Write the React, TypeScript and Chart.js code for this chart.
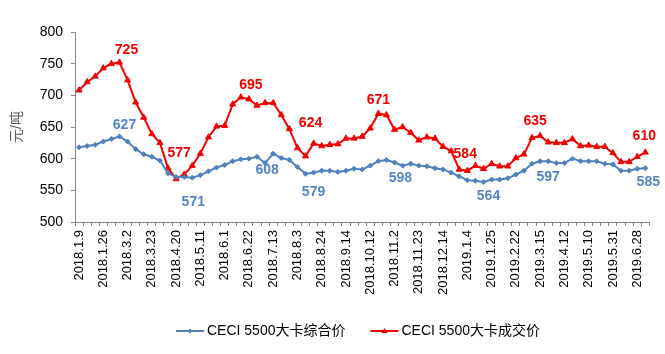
import React, { useEffect, useRef } from 'react';
import { Chart, registerables } from 'chart.js';

Chart.register(...registerables);

const dates: string[] = [
  '2018.1.9', '2018.1.12', '2018.1.19', '2018.1.26', '2018.2.2', '2018.2.9',
  '2018.3.2', '2018.3.9', '2018.3.16', '2018.3.23', '2018.3.30', '2018.4.13',
  '2018.4.20', '2018.4.27', '2018.5.4', '2018.5.11', '2018.5.18', '2018.5.25',
  '2018.6.1', '2018.6.8', '2018.6.15', '2018.6.22', '2018.6.29', '2018.7.6',
  '2018.7.13', '2018.7.20', '2018.7.27', '2018.8.3', '2018.8.10', '2018.8.17',
  '2018.8.24', '2018.8.31', '2018.9.7', '2018.9.14', '2018.9.21', '2018.9.28',
  '2018.10.12', '2018.10.19', '2018.10.26', '2018.11.2', '2018.11.9', '2018.11.16',
  '2018.11.23', '2018.11.30', '2018.12.7', '2018.12.14', '2018.12.21', '2018.12.28',
  '2019.1.4', '2019.1.11', '2019.1.18', '2019.1.25', '2019.2.1', '2019.2.15',
  '2019.2.22', '2019.3.1', '2019.3.8', '2019.3.15', '2019.3.22', '2019.3.29',
  '2019.4.12', '2019.4.19', '2019.4.26', '2019.5.10', '2019.5.17', '2019.5.24',
  '2019.5.31', '2019.6.6', '2019.6.21', '2019.6.28', '2019.7.5',
];

const compositePrice: number[] = [
  618, 620, 622, 627, 631, 635, 627, 615, 607, 603,
  597, 577, 571, 571, 570, 574, 580, 586, 590, 596,
  599, 600, 603, 593, 608, 601, 598, 587, 576, 578,
  581, 581, 579, 581, 584, 583, 589, 596, 598, 594,
  589, 592, 589, 588, 585, 583, 578, 572, 566, 565,
  563, 567, 567, 569, 575, 581, 592, 596, 596, 593,
  593, 600, 596, 596, 596, 592, 591, 581, 581, 584, 585,
];

const dealPrice: number[] = [
  708, 721, 730, 743, 750, 752, 724, 689, 665, 639,
  625, 585, 568, 575, 589, 608, 634, 651, 652, 686,
  697, 694, 684, 688, 688, 669, 647, 617, 604, 624,
  620, 622, 623, 632, 632, 635, 648, 671, 669, 646,
  650, 641, 629, 634, 632, 619, 612, 583, 581, 589,
  584, 592, 588, 588, 601, 607, 633, 636, 626, 625,
  625, 631, 620, 621, 619, 619, 609, 595, 595, 603, 610,
];

const seriesNames: string[] = ['CECI 5500大卡综合价', 'CECI 5500大卡成交价'];
const yMin = 500;
const yMax = 800;
const yStep = 50;
const yTitle = '元/吨';

// annotation texts as printed on the chart, anchored to a point index
const compositeNotes = [
  { i: 5, text: '627', dx: 5, dy: -11 },
  { i: 14, text: '571', dx: 1, dy: 24 },
  { i: 24, text: '608', dx: -6, dy: 17 },
  { i: 28, text: '579', dx: 8, dy: 18 },
  { i: 38, text: '598', dx: 14, dy: 18 },
  { i: 50, text: '564', dx: 5, dy: 14 },
  { i: 58, text: '597', dx: 0, dy: 16 },
  { i: 70, text: '585', dx: 3, dy: 14 },
];
const dealNotes = [
  { i: 5, text: '725', dx: 7, dy: -12 },
  { i: 12, text: '577', dx: 3, dy: -26 },
  { i: 20, text: '695', dx: 10, dy: -12 },
  { i: 28, text: '624', dx: 5, dy: -33 },
  { i: 37, text: '671', dx: 0, dy: -14 },
  { i: 47, text: '584', dx: 6, dy: -15 },
  { i: 57, text: '635', dx: -5, dy: -15 },
  { i: 70, text: '610', dx: -1, dy: -16 },
];

const BLUE = '#4F81BD';
const BLUE_TEXT = '#5584C2';
const RED = '#F00000';
const FONT = "'Liberation Sans', Arial, 'Noto Sans CJK SC', sans-serif";
const AXIS = '#868686';

const notesPlugin = {
  id: 'notes',
  afterDatasetsDraw(chart: any) {
    const ctx = chart.ctx;
    ctx.save();
    ctx.font = `bold 14px ${FONT}`;
    ctx.textAlign = 'center';
    ctx.textBaseline = 'middle';
    const groups = [
      { ds: 0, notes: compositeNotes, color: BLUE_TEXT },
      { ds: 1, notes: dealNotes, color: RED },
    ];
    for (const g of groups) {
      const meta = chart.getDatasetMeta(g.ds);
      ctx.fillStyle = g.color;
      for (const n of g.notes) {
        const p = meta.data[n.i];
        if (!p) continue;
        ctx.fillText(n.text, p.x + n.dx, p.y + n.dy);
      }
    }
    ctx.restore();
  },
};

const legendPlugin = {
  id: 'customLegend',
  afterDraw(chart: any) {
    const ctx = chart.ctx;
    ctx.save();
    ctx.font = `14px ${FONT}`;
    ctx.textBaseline = 'middle';
    ctx.textAlign = 'left';
    const y = 331;
    const lineLen = 28;
    const gap = 25;
    let x = 176;
    chart.data.datasets.forEach((ds: any, idx: number) => {
      ctx.strokeStyle = ds.borderColor;
      ctx.lineWidth = 2;
      ctx.beginPath();
      ctx.moveTo(x, y);
      ctx.lineTo(x + lineLen, y);
      ctx.stroke();
      ctx.fillStyle = ds.borderColor;
      const cx = x + lineLen / 2;
      ctx.beginPath();
      if (idx === 0) {
        ctx.moveTo(cx, y - 2.5);
        ctx.lineTo(cx + 2.5, y);
        ctx.lineTo(cx, y + 2.5);
        ctx.lineTo(cx - 2.5, y);
      } else {
        ctx.moveTo(cx, y - 3);
        ctx.lineTo(cx + 3, y + 2);
        ctx.lineTo(cx - 3, y + 2);
      }
      ctx.closePath();
      ctx.fill();
      ctx.fillStyle = '#000000';
      const tx = x + lineLen + 3;
      ctx.fillText(ds.label, tx, y);
      x = tx + ctx.measureText(ds.label).width + gap;
    });
    ctx.restore();
  },
};

export default function App() {
  const ref = useRef<HTMLCanvasElement | null>(null);
  useEffect(() => {
    if (!ref.current) return;
    const chart = new Chart(ref.current, {
      type: 'line',
      data: {
        labels: dates,
        datasets: [
          {
            label: seriesNames[0],
            data: compositePrice,
            borderColor: BLUE,
            backgroundColor: BLUE,
            borderWidth: 2,
            pointStyle: 'rectRot',
            pointRadius: 2.5,
            pointBorderWidth: 1,
            tension: 0,
          },
          {
            label: seriesNames[1],
            data: dealPrice,
            borderColor: RED,
            backgroundColor: RED,
            borderWidth: 2,
            pointStyle: 'triangle',
            pointRadius: 3.5,
            pointBorderWidth: 1,
            tension: 0,
          },
        ],
      },
      options: {
        responsive: false,
        animation: false,
        layout: { padding: { top: 32, right: 15, bottom: 0, left: 0 } },
        plugins: {
          legend: { display: false },
          tooltip: { enabled: false },
        },
        scales: {
          x: {
            type: 'category',
            offset: true,
            grid: {
              display: true,
              offset: true,
              drawOnChartArea: false,
              drawTicks: true,
              tickLength: 4,
              color: AXIS,
            },
            border: { display: true, color: AXIS, width: 1 },
            ticks: {
              autoSkip: false,
              minRotation: 90,
              maxRotation: 90,
              padding: 4,
              color: '#000000',
              font: { size: 13, family: FONT },
              callback: (_v: any, i: number) => (i % 3 === 0 ? dates[i] : ''),
            },
            afterFit: (s: any) => {
              s.height = 132;
            },
          },
          y: {
            min: yMin,
            max: yMax,
            grid: {
              display: true,
              drawOnChartArea: false,
              drawTicks: true,
              tickLength: 4,
              color: AXIS,
            },
            border: { display: true, color: AXIS, width: 1 },
            ticks: {
              stepSize: yStep,
              padding: 8,
              color: '#000000',
              font: { size: 14, family: FONT },
            },
            title: {
              display: true,
              text: yTitle,
              color: '#595959',
              font: { size: 14, family: FONT },
              padding: { top: 9, bottom: 0 },
            },
            afterFit: (s: any) => {
              s.width = 75;
            },
          },
        },
      },
      plugins: [notesPlugin, legendPlugin],
    });
    return () => chart.destroy();
  }, []);
  return (
    <div style={{ position: 'fixed', left: 0, top: 0, width: 665, height: 354, background: '#ffffff' }}>
      <canvas ref={ref} width={665} height={354} />
    </div>
  );
}
